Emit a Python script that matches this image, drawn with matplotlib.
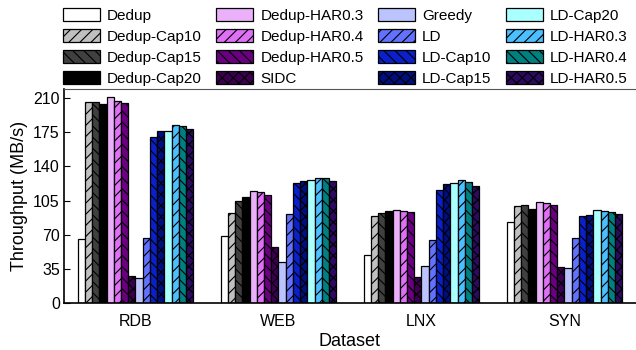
import numpy as np
import matplotlib
matplotlib.use("Agg")
import matplotlib.pyplot as plt

plt.rcParams['font.family'] = ['Liberation Sans', 'DejaVu Sans']
plt.rcParams['hatch.linewidth'] = 0.8

datasets = ["RDB", "WEB", "LNX", "SYN"]

# throughput per dataset (MB/s), order: RDB, WEB, LNX, SYN
dedup = [65.5, 68.5, 49.5, 83]
dedup_cap10 = [206.5, 92, 89, 99]
dedup_cap15 = [206, 105, 92, 100.5]
dedup_cap20 = [204.5, 108.5, 94, 96.5]
dedup_har03 = [211, 115, 95.5, 103]
dedup_har04 = [207, 114, 94, 102]
dedup_har05 = [205.5, 111, 93, 100]
sidc = [27, 57.5, 26, 36.5]
greedy = [25, 42, 37.5, 36]
ld = [66, 91, 64.5, 66]
ld_cap10 = [170, 123, 115.5, 89]
ld_cap15 = [176, 125, 122, 90.5]
ld_cap20 = [176.5, 126, 123.5, 95]
ld_har03 = [183, 128, 126, 94.5]
ld_har04 = [182, 128, 124, 93.5]
ld_har05 = [178, 125, 120, 91]

series_names = ["Dedup", "Dedup-Cap10", "Dedup-Cap15", "Dedup-Cap20",
                "Dedup-HAR0.3", "Dedup-HAR0.4", "Dedup-HAR0.5", "SIDC",
                "Greedy", "LD", "LD-Cap10", "LD-Cap15",
                "LD-Cap20", "LD-HAR0.3", "LD-HAR0.4", "LD-HAR0.5"]
series_values = [dedup, dedup_cap10, dedup_cap15, dedup_cap20,
                 dedup_har03, dedup_har04, dedup_har05, sidc,
                 greedy, ld, ld_cap10, ld_cap15,
                 ld_cap20, ld_har03, ld_har04, ld_har05]

colors = ["#ffffff", "#c0c0c0", "#404040", "#000000",
          "#ebb0fa", "#df6ff5", "#6a0080", "#3d0050",
          "#bcc4ff", "#6272ff", "#0a20c8", "#000f80",
          "#aaffff", "#4cc0ff", "#008080", "#2c0a60"]
hatches = [None, "///", "\\\\\\", None,
           None, "///", "\\\\\\", "xxx",
           None, "///", "\\\\\\", "xxx",
           None, "///", "\\\\\\", "xxx"]

fig = plt.figure(figsize=(6.36, 3.5), dpi=100)
ax = fig.add_axes([0.1006, 0.135, 0.8994, 0.612])

x = np.arange(len(datasets))
n = len(series_names)
group_w = 0.81
bar_w = group_w / n

for i in range(n):
    offs = -group_w / 2 + bar_w * (i + 0.5)
    ax.bar(x + offs, series_values[i], bar_w, color=colors[i],
           edgecolor="black", linewidth=0.9, hatch=hatches[i],
           label=series_names[i])

ax.set_xlim(-0.5, 3.5)
ax.set_ylim(0, 220)
ax.set_yticks(range(0, 211, 35))
ax.set_xticks(x)
ax.set_xticklabels(datasets)
ax.tick_params(axis="y", direction="in", length=4, labelsize=11.5, pad=3)
ax.tick_params(axis="x", length=0, labelsize=11.5, pad=8)
ax.set_ylabel("Throughput (MB/s)", fontsize=13, labelpad=4)
ax.set_xlabel("Dataset", fontsize=13, labelpad=3)

ax.spines["right"].set_visible(False)
ax.spines["top"].set_color("#555555")
ax.spines["left"].set_linewidth(1.2)
ax.spines["bottom"].set_linewidth(1.2)

fig.legend(loc="upper left", bbox_to_anchor=(0.099, 0.977), ncol=4,
           frameon=False, fontsize=11, handlelength=2.42, handleheight=0.95,
           handletextpad=0.46, labelspacing=0.4, columnspacing=0.95,
           borderpad=0, borderaxespad=0)

fig.savefig("out.png", dpi=100)
